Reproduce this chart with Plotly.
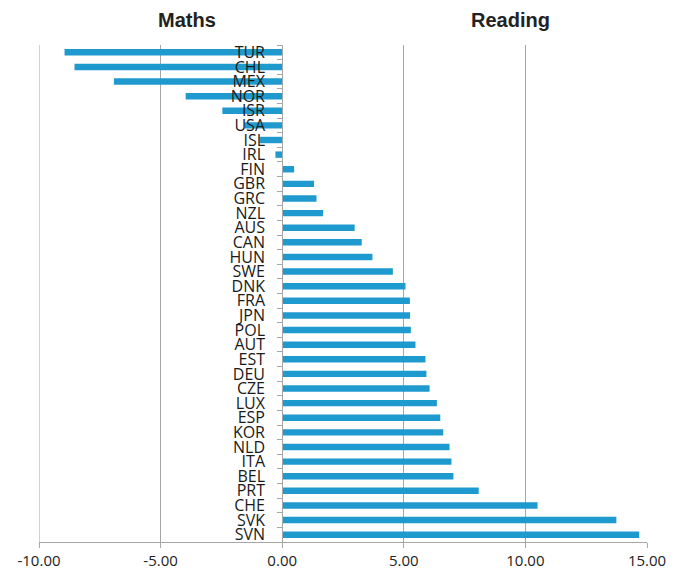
import plotly.graph_objects as go

countries = ["TUR", "CHL", "MEX", "NOR", "ISR", "USA", "ISL", "IRL", "FIN", "GBR",
             "GRC", "NZL", "AUS", "CAN", "HUN", "SWE", "DNK", "FRA", "JPN", "POL",
             "AUT", "EST", "DEU", "CZE", "LUX", "ESP", "KOR", "NLD", "ITA", "BEL",
             "PRT", "CHE", "SVK", "SVN"]
values = [-8.95, -8.54, -6.92, -3.97, -2.46, -1.55, -0.93, -0.28, 0.49, 1.31,
          1.41, 1.68, 2.98, 3.27, 3.71, 4.55, 5.07, 5.25, 5.26, 5.29,
          5.48, 5.89, 5.93, 6.06, 6.36, 6.50, 6.62, 6.88, 6.96, 7.04,
          8.08, 10.50, 13.74, 14.68]
x_ticks = [-10, -5, 0, 5, 10, 15]
x_tick_labels = ["-10.00", "-5.00", "0.00", "5.00", "10.00", "15.00"]

grid_color = "#A6A6A6"

fig = go.Figure(go.Bar(
    x=values, y=countries, orientation="h",
    marker=dict(color="#1F9ACF", line=dict(width=0)),
))

fig.update_layout(
    width=677, height=568,
    margin=dict(l=31, r=38, t=37, b=34),
    plot_bgcolor="white", paper_bgcolor="white",
    bargap=0.56,
    showlegend=False,
    font=dict(family="Open Sans", color="#222222"),
    xaxis=dict(
        range=[-10, 15], tickmode="array", tickvals=x_ticks, ticktext=x_tick_labels,
        showgrid=True, gridcolor=grid_color, gridwidth=1,
        zeroline=False,
        showline=True, linecolor=grid_color, linewidth=1,
        ticks="outside", ticklen=5, tickcolor=grid_color,
        tickfont=dict(size=15, family="Open Sans", color="#222222"),
        automargin=False,
    ),
    yaxis=dict(
        categoryorder="array", categoryarray=countries,
        tickmode="array", tickvals=countries, ticktext=countries,
        autorange="reversed",
        anchor="free", position=0.4,
        showline=True, linecolor=grid_color, linewidth=1,
        ticks="outside", ticklen=5, tickcolor=grid_color,
        tickson="boundaries",
        showgrid=False,
        tickfont=dict(size=16, family="Open Sans", color="#1A1A1A"),
        ticklabelstandoff=14,
        automargin=False,
    ),
    shapes=[
        dict(type="line", xref="x", yref="paper", x0=x_ticks[0], x1=x_ticks[0],
             y0=0, y1=1, line=dict(color=grid_color, width=1), layer="below"),
    ],
    annotations=[
        dict(text="<b>Maths</b>", x=0.244, y=1.051, xref="paper", yref="paper",
             showarrow=False, xanchor="center", yanchor="middle",
             font=dict(family="Liberation Sans", size=20, color="#222222")),
        dict(text="<b>Reading</b>", x=0.776, y=1.051, xref="paper", yref="paper",
             showarrow=False, xanchor="center", yanchor="middle",
             font=dict(family="Liberation Sans", size=20, color="#222222")),
    ],
)

fig.write_html("out.html")
